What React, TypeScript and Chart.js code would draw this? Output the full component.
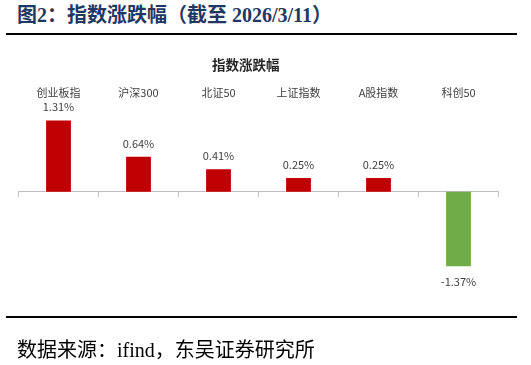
import React, { useEffect, useRef } from "react";
import { Chart, registerables } from "chart.js";

Chart.register(...registerables);

const categories = ["创业板指", "沪深300", "北证50", "上证指数", "A股指数", "科创50"];
const changes = [1.31, 0.64, 0.41, 0.25, 0.25, -1.37];
const pageTitle = "图2：指数涨跌幅（截至 2026/3/11）";
const chartTitle = "指数涨跌幅";
const sourceNote = "数据来源：ifind，东吴证券研究所";

const UP = "#C00000";
const DOWN = "#70AD47";
const SANS = "'Microsoft YaHei', 'Noto Sans CJK SC', 'Noto Sans', sans-serif";
const SERIF = "'Times New Roman', 'Liberation Serif', 'Noto Sans CJK SC', serif";

const valueLabels = {
  id: "valueLabels",
  afterDatasetsDraw(chart: any) {
    const ctx = chart.ctx;
    const meta = chart.getDatasetMeta(0);
    const data = chart.data.datasets[0].data as number[];
    ctx.save();
    ctx.font = `11px ${SANS}`;
    ctx.fillStyle = "#404040";
    ctx.textAlign = "center";
    ctx.textBaseline = "middle";
    meta.data.forEach((bar: any, i: number) => {
      const v = data[i];
      const y = v >= 0 ? bar.y - 13.5 : bar.y + 15.5;
      ctx.fillText(v.toFixed(2) + "%", bar.x, y);
    });
    ctx.restore();
  },
};

export default function App() {
  const ref = useRef<HTMLCanvasElement>(null);
  useEffect(() => {
    const chart = new Chart(ref.current!, {
      type: "bar",
      data: {
        labels: categories,
        datasets: [
          {
            data: changes,
            backgroundColor: changes.map((v) => (v >= 0 ? UP : DOWN)),
            borderWidth: 0,
            categoryPercentage: 1,
            barPercentage: 0.31,
            xAxisID: "x",
          },
        ],
      },
      options: {
        animation: false,
        responsive: false,
        maintainAspectRatio: false,
        layout: { padding: { left: 18.5, right: 32.5, top: 86, bottom: 70 } },
        plugins: {
          legend: { display: false },
          title: { display: false },
          tooltip: { enabled: false },
        },
        scales: {
          y: {
            display: false,
            min: -1.9,
            max: 1.7,
          },
          x: {
            type: "category",
            position: { y: 0 } as any,
            grid: {
              display: true,
              drawOnChartArea: false,
              drawTicks: true,
              tickLength: 5,
              offset: true,
              color: "#BFBFBF",
            },
            border: { display: true, color: "#BFBFBF", width: 1 },
            ticks: { display: false },
          },
          xTop: {
            type: "category",
            position: "top",
            labels: categories,
            grid: { display: false, drawTicks: false },
            border: { display: false },
            ticks: {
              padding: 0,
              color: "#404040",
              font: { size: 11, family: SANS },
            },
          },
        },
      },
      plugins: [valueLabels],
    });
    return () => chart.destroy();
  }, []);

  return (
    <div
      style={{
        position: "fixed",
        left: 0,
        top: 0,
        width: 531,
        height: 365,
        background: "#fff",
        overflow: "hidden",
      }}
    >
      <div
        style={{
          position: "absolute",
          left: 17,
          top: 3,
          fontFamily: SERIF,
          fontWeight: "bold",
          fontSize: 20,
          color: "#1F3864",
          whiteSpace: "nowrap",
          lineHeight: "24px",
        }}
      >
        {pageTitle}
      </div>
      <div
        style={{
          position: "absolute",
          left: 6,
          top: 33,
          width: 511,
          height: 2,
          background: "#000",
        }}
      />
      <canvas
        ref={ref}
        width={531}
        height={365}
        style={{ position: "absolute", left: 0, top: 0, width: 531, height: 365 }}
      />
      <div
        style={{
          position: "absolute",
          left: 145.7,
          width: 200,
          top: 55,
          textAlign: "center",
          fontFamily: SANS,
          fontWeight: "bold",
          fontSize: 13.5,
          color: "#262626",
          lineHeight: "18px",
        }}
      >
        {chartTitle}
      </div>
      <div
        style={{
          position: "absolute",
          left: 6,
          top: 316,
          width: 511,
          height: 2,
          background: "#000",
        }}
      />
      <div
        style={{
          position: "absolute",
          left: 17,
          top: 338,
          fontFamily: SERIF,
          fontSize: 20,
          color: "#000",
          whiteSpace: "nowrap",
          lineHeight: "24px",
        }}
      >
        {sourceNote}
      </div>
    </div>
  );
}
